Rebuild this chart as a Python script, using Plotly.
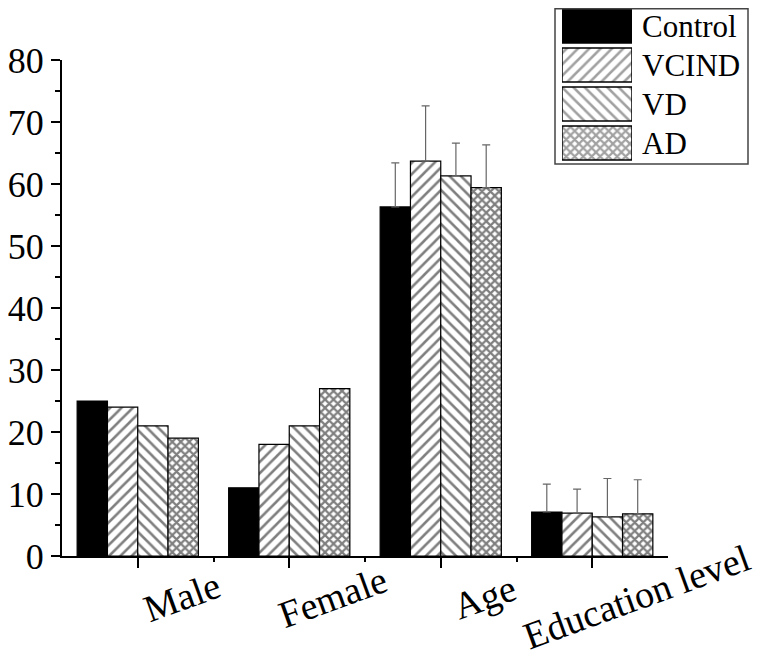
import plotly.graph_objects as go

# ---------------------------
# data
# ---------------------------
categories = ['Male', 'Female', 'Age', 'Education level']
groups = ['Control', 'VCIND', 'VD', 'AD']

control = [25, 11, 56.3, 7.1]
vcind = [24, 18, 63.7, 6.9]
vd = [21, 21, 61.3, 6.3]
ad = [19, 27, 59.4, 6.8]

# upper SD, only for Age and Education level
control_sd = [7.1, 4.5]
vcind_sd = [8.9, 3.9]
vd_sd = [5.3, 6.2]
ad_sd = [6.9, 5.5]

values = [control, vcind, vd, ad]
sds = [control_sd, vcind_sd, vd_sd, ad_sd]

# ---------------------------
# styles
# ---------------------------
FONT = 'Liberation Serif'
fills = ['black', 'white', 'white', 'white']
shapes = ['', '/', '\\', 'x']
psizes = [8, 8, 8, 6]
psolid = [0.32, 0.32, 0.32, 0.6]

OFF = 8                      # page body margin
W, H = 765 - OFF, 655 - OFF  # figure size so page fits the window
L, R, T, B = 54, 10, 0, 99
pw, ph = W - L - R, H - T - B


def px_x(p):
    # page pixel -> paper x
    return (p - OFF - L) / pw


def px_y(p):
    # page pixel -> paper y
    return (H - B - (p - OFF)) / ph


fig = go.Figure()

xs = list(range(len(categories)))
for gi, g in enumerate(groups):
    marker = dict(color=fills[gi], line=dict(color='black', width=1.2))
    if shapes[gi]:
        marker['pattern'] = dict(shape=shapes[gi], fgcolor='black', bgcolor='white',
                                 size=psizes[gi], solidity=psolid[gi])
    # counts (no error bars)
    fig.add_trace(go.Bar(
        x=xs[:2], y=values[gi][:2], name=g, offsetgroup=g,
        marker=marker, showlegend=False, hoverinfo='y'
    ))
    # Age / Education with upper SD
    fig.add_trace(go.Bar(
        x=xs[2:], y=values[gi][2:], name=g, offsetgroup=g,
        marker=marker, showlegend=False, hoverinfo='y',
        error_y=dict(type='data', symmetric=False, array=sds[gi],
                     arrayminus=[0] * len(sds[gi]),
                     color='#666666', thickness=1.2, width=4)
    ))

# ---------------------------
# legend drawn as a small bar panel
# ---------------------------
fig.add_trace(go.Bar(
    x=[1] * len(groups), y=groups, orientation='h', width=0.87,
    marker=dict(color=fills, line=dict(color='black', width=1.5),
                pattern=dict(shape=shapes, fgcolor='black', bgcolor='white',
                             size=psizes, solidity=psolid)),
    xaxis='x2', yaxis='y2', showlegend=False, hoverinfo='skip'
))

annotations = []
for i, c in enumerate(categories):
    annotations.append(dict(
        x=i, xref='x', y=px_y(597), yref='paper', text=c, showarrow=False,
        xanchor='center', yanchor='middle', xshift=44, textangle=-20,
        font=dict(family=FONT, size=38, color='black')
    ))
for g in groups:
    annotations.append(dict(
        x=px_x(640), xref='paper', y=g, yref='y2', text=g, showarrow=False,
        xanchor='left', yanchor='middle',
        font=dict(family=FONT, size=31, color='black')
    ))

# legend rows: centres at page y 26, 65, 104, 143 (39 px apart)
row = 39.0
leg_top = OFF  # top of figure
leg_bot = 143 + row / 2

fig.update_layout(
    width=W, height=H,
    margin=dict(l=L, r=R, t=T, b=B, autoexpand=False),
    paper_bgcolor='white', plot_bgcolor='white',
    font=dict(family=FONT, size=36, color='black'),
    barmode='group', bargap=0.2, bargroupgap=0,
    xaxis=dict(
        domain=[0, px_x(668)], range=[-0.5, len(categories) - 0.5],
        tickvals=xs, ticktext=[''] * len(xs), automargin=False,
        ticks='outside', ticklen=10, tickwidth=2, tickcolor='black',
        minor=dict(tickvals=[i + 0.5 for i in xs[:-1]], ticks='outside',
                   ticklen=4, tickwidth=2, tickcolor='black'),
        showline=True, linecolor='black', linewidth=2,
        showgrid=False, zeroline=False, fixedrange=True
    ),
    yaxis=dict(
        domain=[0, px_y(60)], range=[0, 80], dtick=10, automargin=False,
        ticks='outside', ticklen=9, tickwidth=2, tickcolor='black',
        minor=dict(dtick=5, ticks='outside', ticklen=5, tickwidth=2,
                   tickcolor='black', showgrid=False),
        showline=True, linecolor='black', linewidth=2,
        showgrid=False, zeroline=False,
        tickfont=dict(family=FONT, size=36, color='black'), fixedrange=True
    ),
    xaxis2=dict(domain=[px_x(562), px_x(632)], range=[0, 1], anchor='y2',
                visible=False, fixedrange=True, automargin=False),
    yaxis2=dict(domain=[px_y(leg_bot), 1], anchor='x2', visible=False,
                categoryorder='array', categoryarray=groups, automargin=False,
                range=[len(groups) - 0.5, -0.5 + (leg_top - (26 - row / 2)) / row],
                fixedrange=True),
    shapes=[dict(type='rect', xref='paper', yref='paper',
                 x0=px_x(555), x1=px_x(748), y0=px_y(164), y1=px_y(OFF + 0.8),
                 line=dict(color='#444444', width=1.5))],
    annotations=annotations
)

fig.write_html("out.html")
